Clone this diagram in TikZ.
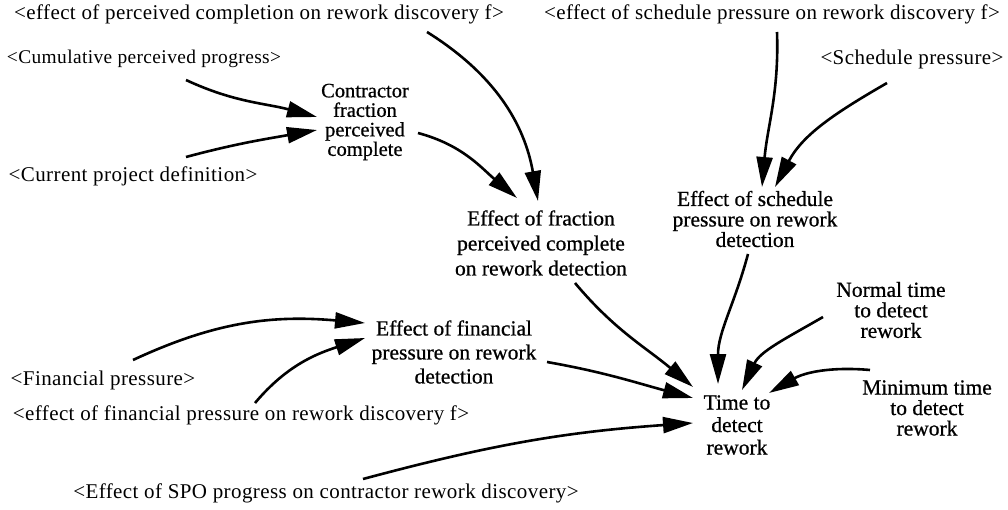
\documentclass[tikz,border=0pt]{standalone}
\usepackage{fontspec}
\setmainfont{Liberation Serif}
\newfontfamily\heavyserif{Liberation Serif}[FakeBold=0.7]
\newfontfamily\spacedserif{Liberation Serif}[LetterSpace=2]
\usetikzlibrary{arrows.meta}
\tikzset{
  shadowvar/.style={inner sep=0pt, font=\spacedserif\fontsize{21}{23}\selectfont},
  mainvar/.style={inner sep=0pt, align=center},
  link/.style={line width=2.6pt, -{Triangle[length=30pt,width=16pt]}},
}
\begin{document}
\begin{tikzpicture}[x=1pt,y=1pt]
\useasboundingbox (0,0) rectangle (1008,-510);
% shadow variables
\node[shadowvar] (epc) at (259,-14) {<effect of perceived completion on rework discovery f>};
\node[shadowvar] (espf) at (772,-14) {<effect of schedule pressure on rework discovery f>};
\node[shadowvar, font=\spacedserif\fontsize{19.4}{22}\selectfont] (cum) at (144,-59) {<Cumulative perceived progress>};
\node[shadowvar] (sp) at (912,-59) {<Schedule pressure>};
\node[shadowvar] (cpd) at (133,-176) {<Current project definition>};
\node[shadowvar] (fp) at (103,-380) {<Financial pressure>};
\node[shadowvar] (eff) at (241,-415) {<effect of financial pressure on rework discovery f>};
\node[shadowvar] (spo) at (326,-493) {<Effect of SPO progress on contractor rework discovery>};
% main variables
\node[mainvar, font=\heavyserif\fontsize{20.5}{19.5}\selectfont] (cfpc) at (365,-122) {Contractor\\fraction\\perceived\\complete};
\node[mainvar, font=\heavyserif\fontsize{21.5}{25}\selectfont] (efpc) at (541,-243) {Effect of fraction\\perceived complete\\on rework detection};
\node[mainvar, font=\heavyserif\fontsize{21.5}{20.5}\selectfont] (espr) at (755,-219) {Effect of schedule\\pressure on rework\\detection};
\node[mainvar, font=\heavyserif\fontsize{21.5}{20.5}\selectfont] (ntdr) at (891,-310) {Normal time\\to detect\\rework};
\node[mainvar, font=\heavyserif\fontsize{21.5}{24}\selectfont] (efin) at (454,-352) {Effect of financial\\pressure on rework\\detection};
\node[mainvar, font=\heavyserif\fontsize{21.5}{20.5}\selectfont] (mtdr) at (927,-408) {Minimum time\\to detect\\rework};
\node[mainvar, font=\heavyserif\fontsize{21.5}{22.5}\selectfont] (ttdr) at (737,-425) {Time to\\detect\\rework};
% links
\draw[link] ([shift={(42,-21)}]cum.center) to[out=-25,in=165] ([shift={(-48,5)}]cfpc.center);
\draw[link] ([shift={(53,19)}]cpd.center) to[out=15,in=-170] ([shift={(-48,-8)}]cfpc.center);
\draw[link] ([shift={(168,-18)}]epc.center) to[out=-32,in=100] ([shift={(-3,42)}]efpc.center);
\draw[link] ([shift={(53,-11)}]cfpc.center) to[out=-15,in=140] ([shift={(-24,45)}]efpc.center);
\draw[link] ([shift={(5,-18)}]espf.center) to[out=-88,in=85] ([shift={(7,32)}]espr.center);
\draw[link] ([shift={(-25,-24)}]sp.center) to[out=-150,in=62] ([shift={(20,32)}]espr.center);
\draw[link] ([shift={(-7,-35)}]espr.center) to[out=-105,in=90] ([shift={(-19,41)}]ttdr.center);
\draw[link] ([shift={(34,-40)}]efpc.center) to[out=-50,in=140] ([shift={(-44,38)}]ttdr.center);
\draw[link] ([shift={(-68,-7)}]ntdr.center) to[out=-150,in=65] ([shift={(5,35)}]ttdr.center);
\draw[link] ([shift={(-57,38)}]mtdr.center) to[out=175,in=30] ([shift={(32,32)}]ttdr.center);
\draw[link] ([shift={(93,-10)}]efin.center) to[out=-10,in=165] ([shift={(-44,27)}]ttdr.center);
\draw[link] ([shift={(37,14)}]spo.center) to[out=15,in=-176] ([shift={(-44,2)}]ttdr.center);
\draw[link] ([shift={(30,20)}]fp.center) to[out=25,in=175] ([shift={(-89,29)}]efin.center);
\draw[link] ([shift={(14,12)}]eff.center) to[out=50,in=-162] ([shift={(-89,14)}]efin.center);
\end{tikzpicture}
\end{document}
